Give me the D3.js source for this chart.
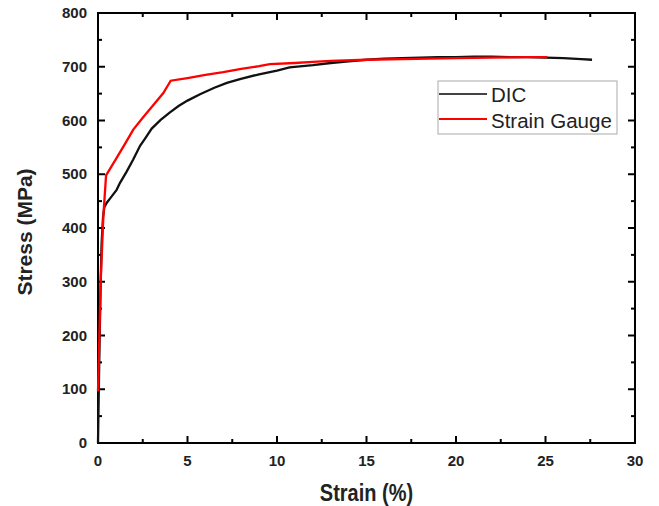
<!DOCTYPE html>
<html><head><meta charset="utf-8">
<script src="https://cdn.jsdelivr.net/npm/d3@7"></script>
<style>body{margin:0;background:#fff}svg{display:block}text{font-family:Arial,"Liberation Sans",sans-serif}</style>
</head><body><svg id="c" width="659" height="506"></svg>
<script>
const dicStrain = [0,0.05,0.1,0.15,0.2,0.28,0.35,0.49,0.7,1.04,1.23,1.6,1.96,2.35,2.6,3.0,3.5,4.02,4.5,5.0,5.7,6.5,7.2,7.93,9.0,10.0,10.7,12.0,13.0,14.0,15.0,16.0,17.0,18.0,19.0,20.0,21.0,22.0,23.0,24.0,25.0,26.0,27.0,27.6];
const dicStress = [0,110,210,300,370,420,438,447,456,471,484,505,527,553,565,585,601,615,627,637,649,661,670,677,686,693,699,703,707,710,713,715,716,717,718,718,719,719,718,718,717,716,714,713];
const sgStrain = [0,0.15,0.3,0.45,1.0,1.5,1.97,2.5,3.0,3.65,4.06,5.0,6.0,7.0,8.0,9.0,9.6,11.0,12.0,13.0,15.0,17.0,20.0,22.0,24.0,25.1];
const sgStress = [96,300,422,498,528,556,583,605,625,651,674,679,685,690,696,701,705,707,709,711,713,714,716,717,718,718];
const xTicks = [0,5,10,15,20,25,30];
const yTicks = [0,100,200,300,400,500,600,700,800];

const svg = d3.select("#c");
const L=98,T=13,R=635,B=443;
const x = d3.scaleLinear().domain([0,30]).range([L,R]);
const y = d3.scaleLinear().domain([0,800]).range([B,T]);

const g = svg.append("g");
const xMinor = d3.range(0,30.01,2.5), yMinor = d3.range(0,800.1,50);
function tick(x1,y1,x2,y2){g.append("line").attr("x1",x1).attr("y1",y1).attr("x2",x2).attr("y2",y2).attr("stroke","#000").attr("stroke-width",2);}
xMinor.forEach(v=>{const len = xTicks.includes(v)?7:4; tick(x(v),B,x(v),B-len); tick(x(v),T,x(v),T+len);});
yMinor.forEach(v=>{const len = yTicks.includes(v)?7:4; tick(L,y(v),L+len,y(v)); tick(R,y(v),R-len,y(v));});

g.append("rect").attr("x",L).attr("y",T).attr("width",R-L).attr("height",B-T).attr("fill","none").attr("stroke","#000").attr("stroke-width",2);

xTicks.forEach(v=>g.append("text").attr("x",x(v)).attr("y",466).attr("text-anchor","middle").attr("font-size",15).attr("font-weight","bold").attr("fill","#222").text(v));
yTicks.forEach(v=>g.append("text").attr("x",L-11).attr("y",y(v)+5).attr("text-anchor","end").attr("font-size",15).attr("font-weight","bold").attr("fill","#222").text(v));

svg.append("text").attr("transform","translate("+((L+R)/2)+",501) scale(1,1.15)").attr("text-anchor","middle").attr("font-size",20).attr("font-weight","bold").attr("fill","#222").text("Strain (%)");
svg.append("text").attr("transform","translate(32,232) rotate(-90)").attr("text-anchor","middle").attr("font-size",21).attr("font-weight","bold").attr("fill","#222").text("Stress (MPa)");

const line = d3.line().x(d=>x(d[0])).y(d=>y(d[1]));
const sgData = sgStrain.map((s,i)=>[s,sgStress[i]]);
const dicData = dicStrain.map((s,i)=>[s,dicStress[i]]);
svg.append("path").datum(dicData).attr("d",line).attr("fill","none").attr("stroke","#111").attr("stroke-width",2.3);
svg.append("path").datum(sgData).attr("d",line).attr("fill","none").attr("stroke","#f00").attr("stroke-width",2.3);

const lg = svg.append("g");
lg.append("rect").attr("x",438).attr("y",81).attr("width",179).attr("height",53).attr("fill","#fff").attr("stroke","#aaa").attr("stroke-width",1);
const items=[["DIC","#444",94,101.5],["Strain Gauge","#f00",119,127.5]];
items.forEach(([t,c,yy,bl])=>{
  lg.append("line").attr("x1",439).attr("x2",487).attr("y1",yy).attr("y2",yy).attr("stroke",c).attr("stroke-width",2);
  lg.append("text").attr("x",491).attr("y",bl).attr("font-size",20.5).attr("fill","#222").text(t);
});
</script></body></html>
